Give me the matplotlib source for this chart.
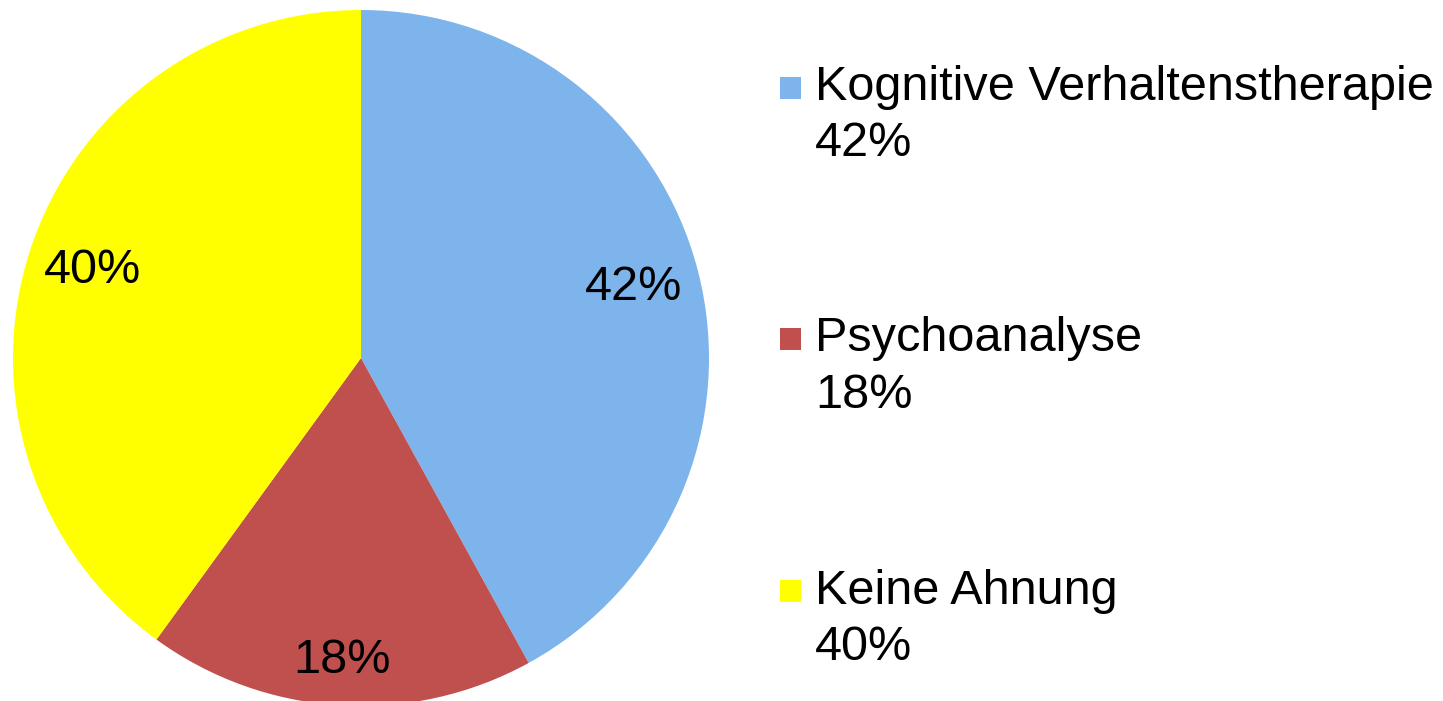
import numpy as np
import matplotlib.pyplot as plt
from matplotlib.patches import Rectangle

plt.rcParams['font.family'] = ['Liberation Sans', 'DejaVu Sans']

categories = ['Kognitive Verhaltenstherapie', 'Psychoanalyse', 'Keine Ahnung']
shares = [42, 18, 40]
colors = ['#7EB4EC', '#C0504D', '#FFFF00']
label_dist = [0.81, 0.87, 0.81]

fig = plt.figure(figsize=(14.43, 7.01), dpi=100)
W, H = 1443, 701
cx, cy, r = 361, 358, 348
ax = fig.add_axes([(cx - r) / W, (H - cy - r) / H, 2 * r / W, 2 * r / H])

wedges, texts = ax.pie(shares, colors=colors, startangle=90, counterclock=False,
                       labels=[f'{v}%' for v in shares], radius=1,
                       wedgeprops=dict(linewidth=0),
                       textprops=dict(fontsize=35, color='black'))
for w, t, d in zip(wedges, texts, label_dist):
    mid = np.deg2rad((w.theta1 + w.theta2) / 2)
    t.set_position((d * np.cos(mid), d * np.sin(mid)))
    t.set_horizontalalignment('center')
    t.set_verticalalignment('center')
    w.set_clip_on(False)
ax.set_xlim(-1, 1)
ax.set_ylim(-1, 1)
ax.set_aspect('equal')
ax.axis('off')

# legend drawn by hand so the swatch sits beside the first line
tops = [88, 339, 591]
for name, v, c, yc in zip(categories, shares, colors, tops):
    fig.patches.append(Rectangle((780 / W, (H - yc - 11) / H), 21 / W, 22 / H,
                                 transform=fig.transFigure, facecolor=c,
                                 edgecolor='none'))
    fig.text(815 / W, (H - yc) / H, name, fontsize=35, va='center', ha='left')
    fig.text(815 / W, (H - yc - 56) / H, f'{v}%', fontsize=35, va='center', ha='left')

fig.savefig('out.png', dpi=100)
